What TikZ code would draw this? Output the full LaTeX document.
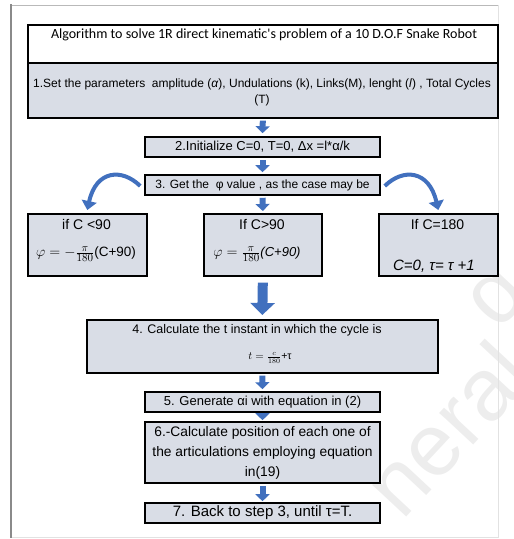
\documentclass[tikz,border=0pt]{standalone}
\usepackage{fontspec}
\setmainfont{Liberation Sans}
\newfontfamily\titlefont{Carlito}
\usetikzlibrary{arrows.meta}
\definecolor{boxfill}{HTML}{D9DDE6}
\definecolor{flowblue}{HTML}{4170BE}
\definecolor{framegray}{HTML}{8A8A8A}
\tikzset{
  x=1pt, y=-1pt,
  stepbox/.style={draw=black, line width=1.6pt, fill=boxfill, inner sep=2pt,
    align=center, font=\fontsize{12}{14}\selectfont},
  titlebox/.style={stepbox, fill=white},
  flow/.style={flowblue, line width=6pt, -{Triangle[width=14pt,length=7pt]}},
  bigflow/.style={flowblue, line width=10pt, -{Triangle[width=24pt,length=12pt]}},
  sideflow/.style={flowblue, line width=4pt, -{Triangle[width=15pt,length=9pt]}},
  mark text/.style={text=black!7, font=\fontsize{88}{88}\selectfont, rotate=47}
}
\begin{document}
\begin{tikzpicture}
\useasboundingbox (0,0) rectangle (514,539);
% faint diagonal background lettering
\begin{scope}
  \clip (0,0) rectangle (514,539);
  \node[mark text] (wm) at (446,428) {neral};
  \node[mark text] (wm2) at (492,292) {d};
\end{scope}
% page frame
\draw[framegray!60, line width=0.8pt] (11,5) -- (498,5);
\draw[framegray!25, line width=0.8pt] (498,5) -- (498,537) -- (11,537);
\draw[framegray, line width=1.6pt] (11,4) -- (11,538);

% header and step 1
\node[titlebox, minimum width=470, minimum height=38, anchor=north west] (title) at (27,24) {};
\node[font=\titlefont\fontsize{14}{16}\selectfont, anchor=north] (titletext) at (264,25) {Algorithm to solve 1R direct kinematic's problem of a 10 D.O.F Snake Robot};
\node[stepbox, minimum width=470, minimum height=55, anchor=north west] (s1) at (27,62) {};
\node[font=\fontsize{12}{16}\selectfont, align=center] (s1text) at (262,92) {1.Set the parameters\ \ amplitude (\textit{α}), Undulations (k), Links(M), lenght (\textit{l}) , Total Cycles\\(T)};

% steps 2 and 3
\node[stepbox, minimum width=235, minimum height=20, font=\fontsize{13}{14}\selectfont] (s2) at (262.5,147) {2.Initialize C=0, T=0, Δx =l*α/k};
\node[stepbox, minimum width=235, minimum height=20] (s3) at (262.5,185) {3. Get the\ \ φ value , as the case may be};

% the three cases
\node[stepbox, minimum width=119, minimum height=62, anchor=north west] (cl) at (27,213) {};
\node[font=\fontsize{14}{16}\selectfont] (clt) at (86.5,224) {if C <90};
\node[font=\fontsize{13.5}{16}\selectfont] (clf) at (86,254) {{\fontsize{15}{16}\selectfont$\varphi = -\frac{\pi}{180}$}(C+90)};
\node[stepbox, minimum width=118, minimum height=62, anchor=north west] (cm) at (203,213) {};
\node[font=\fontsize{14}{16}\selectfont] (cmt) at (262,224) {If C>90};
\node[font=\fontsize{13}{16}\selectfont] (cmf) at (257,254) {{\fontsize{15}{16}\selectfont$\varphi = \frac{\pi}{180}$}\textit{(C+90)}};
\node[stepbox, minimum width=119, minimum height=62, anchor=north west] (cr) at (378,213) {};
\node[font=\fontsize{14}{16}\selectfont] (crt) at (437.5,224) {If C=180};
\node[font=\fontsize{15}{16}\selectfont] (crf) at (434,266) {\textit{C=0, τ= τ +1}};

% step 4 to step 7
\node[stepbox, minimum width=351, minimum height=53, anchor=north west] (s4) at (86,319) {};
\node[font=\fontsize{12.5}{14}\selectfont] (s4t) at (257,330) {4. Calculate the t instant in which the cycle is};
\node[font=\fontsize{10.5}{12}\selectfont] (s4f) at (270,358) {$t=\frac{c}{180}$+τ};
\node[stepbox, minimum width=235, minimum height=20, font=\fontsize{13}{14}\selectfont] (s5) at (262.5,402) {5. Generate αi with equation in (2)};
\node[stepbox, minimum width=235, minimum height=61, font=\fontsize{13.8}{20}\selectfont] (s6) at (262.5,452.5) {6.-Calculate position of each one of\\the articulations employing equation\\in(19)};
\node[stepbox, minimum width=235, minimum height=20, font=\fontsize{15}{16}\selectfont] (s7) at (262.5,513) {7. Back to step 3, until τ=T.};

% straight block arrows
\draw[flow] ([yshift=-2pt]s1.south) -- ([yshift=3pt]s2.north);
\draw[flow] ([yshift=-2pt]s2.south) -- ([yshift=2pt]s3.north);
\draw[flow] ([yshift=-2pt]s3.south) -- ([yshift=2pt]cm.north);
\draw[bigflow] ([yshift=-6pt]cm.south) -- ([yshift=4pt]s4.north);
\draw[flow] ([yshift=-2pt]s4.south) -- ([yshift=2pt]s5.north);
\draw[flow] ([yshift=-1pt]s5.south) -- ([yshift=1pt]s6.north);
\draw[flow] ([yshift=-2pt]s6.south) -- ([yshift=1pt]s7.north);

% curved side arrows from step 3 down into the outer cases
\draw[sideflow] ([xshift=-4pt,yshift=-1pt]s3.west) .. controls (122,168) and (96,170) .. ([yshift=3pt]cl.north);
\draw[sideflow] ([xshift=4pt,yshift=-1pt]s3.east) .. controls (403,168) and (429,170) .. ([yshift=3pt]cr.north);
\end{tikzpicture}
\end{document}
